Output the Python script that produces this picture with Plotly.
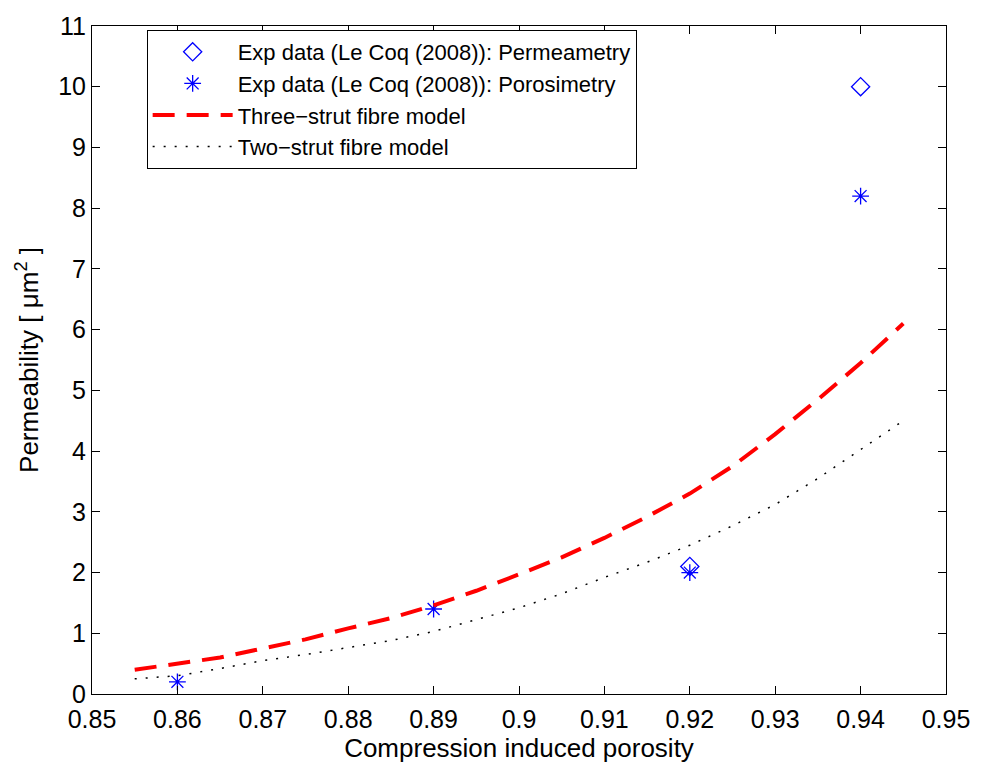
import plotly.graph_objects as go

# Experimental data
perm_x = [0.92, 0.94]
perm_y = [2.1, 10.0]
poro_x = [0.86, 0.89, 0.92, 0.94]
poro_y = [0.2, 1.4, 2.0, 8.2]

# Model curves
model_x = [0.855, 0.86, 0.865, 0.87, 0.875, 0.88, 0.885, 0.89, 0.895, 0.90,
           0.905, 0.91, 0.915, 0.92, 0.925, 0.93, 0.935, 0.94, 0.945]
three_strut = [0.40, 0.50, 0.60, 0.75, 0.90, 1.08, 1.25, 1.46, 1.70, 1.97,
               2.25, 2.57, 2.92, 3.30, 3.75, 4.28, 4.85, 5.45, 6.10]
two_strut = [0.25, 0.30, 0.42, 0.55, 0.65, 0.77, 0.88, 1.03, 1.22, 1.42,
             1.65, 1.92, 2.17, 2.45, 2.77, 3.12, 3.55, 4.02, 4.50]

x_ticks = [0.85, 0.86, 0.87, 0.88, 0.89, 0.9, 0.91, 0.92, 0.93, 0.94, 0.95]
x_tick_labels = ["0.85", "0.86", "0.87", "0.88", "0.89", "0.9", "0.91", "0.92", "0.93", "0.94", "0.95"]
y_ticks = list(range(0, 12))

fig = go.Figure()
fig.add_trace(go.Scatter(
    x=perm_x, y=perm_y, mode="markers",
    name="Exp data (Le Coq (2008)): Permeametry",
    marker=dict(symbol="diamond-open", size=14, color="#0000ff", line=dict(width=1.3, color="#0000ff")),
))
fig.add_trace(go.Scatter(
    x=poro_x, y=poro_y, mode="markers",
    name="Exp data (Le Coq (2008)): Porosimetry",
    marker=dict(symbol="asterisk-open", size=14, color="#0000ff", line=dict(width=1.3, color="#0000ff")),
))
fig.add_trace(go.Scatter(
    x=model_x, y=three_strut, mode="lines",
    name="Three\u2212strut fibre model",
    line=dict(color="#ff0000", width=4, dash="22px,12px"),
))
fig.add_trace(go.Scatter(
    x=model_x, y=two_strut, mode="lines",
    name="Two\u2212strut fibre model",
    line=dict(color="#000000", width=1.5, dash="2px,9px"),
))

font_family = "Liberation Sans, Arial, Helvetica, sans-serif"
fig.update_layout(
    width=982, height=766,
    margin=dict(l=92, r=34, t=20, b=72),
    paper_bgcolor="white", plot_bgcolor="white",
    font=dict(family=font_family, size=25, color="black"),
    showlegend=True,
    legend=dict(
        x=0.064, y=0.994, xanchor="left", yanchor="top",
        bgcolor="white", bordercolor="black", borderwidth=1,
        font=dict(size=22, family=font_family),
        itemwidth=80,
    ),
    xaxis=dict(
        range=[0.85, 0.95], tickvals=x_ticks, ticktext=x_tick_labels,
        ticks="inside", ticklen=8, tickcolor="black", tickwidth=1,
        showline=True, linecolor="black", linewidth=1, mirror="ticks",
        showgrid=False, zeroline=False, ticklabelstandoff=3,
        title=dict(text="Compression induced porosity", standoff=0, font=dict(size=26)),
        tickfont=dict(size=25),
    ),
    yaxis=dict(
        range=[0, 11], tickvals=y_ticks,
        ticks="inside", ticklen=8, tickcolor="black", tickwidth=1,
        showline=True, linecolor="black", linewidth=1, mirror="ticks",
        showgrid=False, zeroline=False,
        title=dict(text="Permeability [ \u03bcm<sup>2</sup> ]", standoff=12, font=dict(size=26)),
        tickfont=dict(size=25),
    ),
)

fig.write_html("out.html")
